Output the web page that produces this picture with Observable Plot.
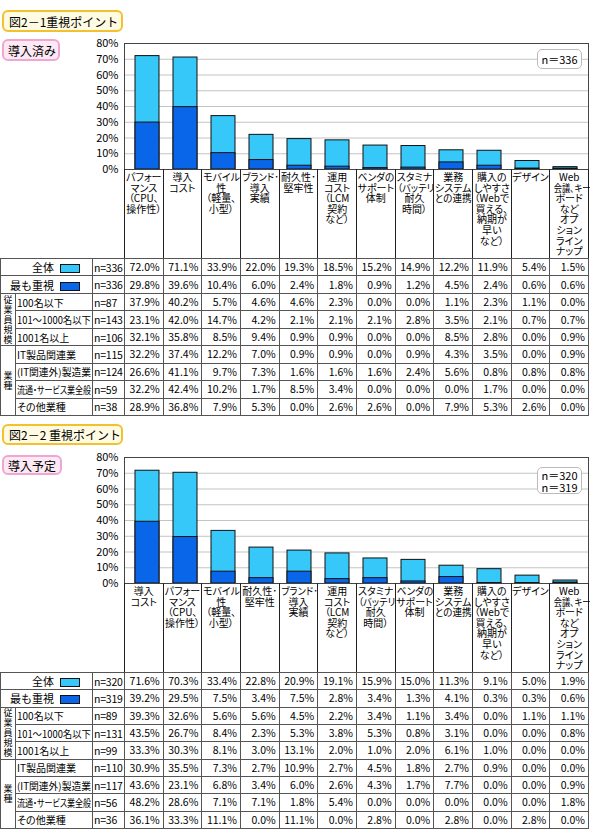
<!DOCTYPE html>
<html><head><meta charset="utf-8">
<script src="https://cdn.jsdelivr.net/npm/d3@7"></script>
<script src="https://cdn.jsdelivr.net/npm/@observablehq/plot@0.6"></script>
<style>
body{margin:0;background:#fff;font-family:"Noto Sans CJK JP","Noto Sans",sans-serif;color:#000;}
#root{position:relative;width:590px;height:837px;overflow:hidden;}
.abs{position:absolute;box-sizing:border-box;}
.title{border:2px solid #f2c12e;background:#fffbe3;border-radius:6px;font-size:12px;display:flex;align-items:center;padding-left:5px;white-space:pre;}
.sub{border:2px solid #f0a6d2;background:#fde9f4;border-radius:6px;font-size:12px;display:flex;align-items:center;padding-left:4px;white-space:nowrap;}
.nbox{border:1.5px solid #bbb;border-radius:5px;background:#fff;font-size:11px;line-height:12px;display:flex;flex-direction:column;justify-content:center;align-items:center;}
.lab{position:absolute;border-left:1px solid #222;text-align:center;font-size:10px;line-height:10.6px;padding-top:3px;font-feature-settings:"palt";box-sizing:border-box;}
.lab div{white-space:nowrap;height:10.6px;line-height:10.6px;overflow:visible;}
.fit{display:inline-block;white-space:nowrap;transform-origin:center top;vertical-align:top;line-height:10.6px;}
.fitl{display:inline-block;white-space:nowrap;transform-origin:left center;vertical-align:middle;}
table{position:absolute;left:0;border-collapse:collapse;table-layout:fixed;font-size:10.5px;}
td{border:1px solid #555;padding:0 3px 0 0;white-space:nowrap;overflow:hidden;text-align:right;line-height:14px;}
td.rl{text-align:right;padding-right:12px;font-size:11px;}
td.sl{text-align:left;padding-left:1px;font-size:10px;font-feature-settings:"palt";}
td.n{text-align:left;padding-left:1px;font-size:10.5px;letter-spacing:-0.2px;}
td.grp{text-align:center;font-size:9px;line-height:10px;padding:0;}
.sw{display:inline-block;width:20px;height:9px;border:1px solid #111;vertical-align:-1px;margin-left:6px;box-sizing:border-box;}
</style></head>
<body><div id="root"></div>
<script>
// ---------- data ----------
const lightBlue = "#36c8f8", darkBlue = "#0a66e8";
const rowLabels = ["全体","最も重視","100名以下","101～1000名以下","1001名以上","IT製品関連業","(IT関連外)製造業","流通・サービス業全般","その他業種"];
const yTicks = [0,10,20,30,40,50,60,70,80];

const catLabels = {
  perf: "パフォー\nマンス\n（CPU､\n操作性）",
  cost: "導入\nコスト",
  mobile: "モバイル\n性\n（軽量､\n小型）",
  brand: "ブランド･\n導入\n実績",
  dur: "耐久性･\n堅牢性",
  run: "運用\nコスト\n（LCM\n契約\nなど）",
  vendor: "ベンダの\nサポート\n体制",
  stamina: "スタミナ\n（バッテリ\n耐久\n時間）",
  biz: "業務\nシステム\nとの連携",
  buy: "購入の\nしやすさ\n（Webで\n買える､\n納期が\n早い\nなど）",
  design: "デザイン",
  web: "Web\n会議､キー\nボード\nなど\nオプ\nション\nライン\nナップ"
};

// 図2-1 導入済み
const cats1 = ["perf","cost","mobile","brand","dur","run","vendor","stamina","biz","buy","design","web"];
const n1 = [336,336,87,143,106,115,124,59,38];
const total1 = [72.0,71.1,33.9,22.0,19.3,18.5,15.2,14.9,12.2,11.9,5.4,1.5];
const most1  = [29.8,39.6,10.4,6.0,2.4,1.8,0.9,1.2,4.5,2.4,0.6,0.6];
const seg1 = [
  [37.9,40.2,5.7,4.6,4.6,2.3,0.0,0.0,1.1,2.3,1.1,0.0],
  [23.1,42.0,14.7,4.2,2.1,2.1,2.1,2.8,3.5,2.1,0.7,0.7],
  [32.1,35.8,8.5,9.4,0.9,0.9,0.0,0.0,8.5,2.8,0.0,0.9],
  [32.2,37.4,12.2,7.0,0.9,0.9,0.0,0.9,4.3,3.5,0.0,0.9],
  [26.6,41.1,9.7,7.3,1.6,1.6,1.6,2.4,5.6,0.8,0.8,0.8],
  [32.2,42.4,10.2,1.7,8.5,3.4,0.0,0.0,0.0,1.7,0.0,0.0],
  [28.9,36.8,7.9,5.3,0.0,2.6,2.6,0.0,7.9,5.3,2.6,0.0]
];

// 図2-2 導入予定
const cats2 = ["cost","perf","mobile","dur","brand","run","stamina","vendor","biz","buy","design","web"];
const n2 = [320,319,89,131,99,110,117,56,36];
const total2 = [71.6,70.3,33.4,22.8,20.9,19.1,15.9,15.0,11.3,9.1,5.0,1.9];
const most2  = [39.2,29.5,7.5,3.4,7.5,2.8,3.4,1.3,4.1,0.3,0.3,0.6];
const seg2 = [
  [39.3,32.6,5.6,5.6,4.5,2.2,3.4,1.1,3.4,0.0,1.1,1.1],
  [43.5,26.7,8.4,2.3,5.3,3.8,5.3,0.8,3.1,0.0,0.0,0.8],
  [33.3,30.3,8.1,3.0,13.1,2.0,1.0,2.0,6.1,1.0,0.0,0.0],
  [30.9,35.5,7.3,2.7,10.9,2.7,4.5,1.8,2.7,0.9,0.0,0.0],
  [43.6,23.1,6.8,3.4,6.0,2.6,4.3,1.7,7.7,0.0,0.0,0.9],
  [48.2,28.6,7.1,7.1,1.8,5.4,0.0,0.0,0.0,0.0,0.0,1.8],
  [36.1,33.3,11.1,0.0,11.1,0.0,2.8,0.0,2.8,0.0,2.8,0.0]
];

// ---------- layout ----------
const root = document.getElementById("root");
function el(cls, css, html){const d=document.createElement("div");d.className="abs "+cls;Object.assign(d.style,css);d.innerHTML=html;root.appendChild(d);return d;}
function fitAll(){
  document.querySelectorAll(".fit,.fitl").forEach(s=>{
    const avail=+s.dataset.w; const w=s.getBoundingClientRect().width;
    if(w>avail) s.style.transform=`scaleX(${avail/w})`;
  });
}

function section(o){
  el("title",{left:"2px",top:o.titleTop+"px",width:"121px",height:o.titleH+"px"},o.title);
  el("sub",{left:"2px",top:o.subTop+"px",width:o.subW+"px",height:o.subH+"px"},o.sub);

  const data = o.cats.map((c,i)=>({c, total:o.total[i], most:o.most[i]}));
  const plot = Plot.plot({
    width:590, height:136, marginLeft:124, marginRight:2, marginTop:8, marginBottom:2,
    x:{domain:o.cats, paddingInner:0.36, paddingOuter:0.18, axis:null},
    y:{domain:[0,80], axis:null},
    style:{fontFamily:'"Noto Sans CJK JP",sans-serif', fontSize:"11px", color:"#000", background:"transparent", overflow:"visible"},
    marks:[
      Plot.gridY(yTicks,{stroke:"#c4c4c4", strokeOpacity:1}),
      Plot.barY(data,{x:"c", y:"total", fill:lightBlue, stroke:"#111", strokeWidth:1}),
      Plot.barY(data,{x:"c", y:"most", fill:darkBlue, stroke:"#111", strokeWidth:1}),
      Plot.axisY(yTicks,{tickSize:0, tickPadding:6, tickFormat:d=>d+"%", fontSize:11}),
      Plot.frame({stroke:"#444"})
    ]
  });
  plot.style.position="absolute"; plot.style.left="0px"; plot.style.top=(o.frameTop-8)+"px";
  root.appendChild(plot);

  el("nbox",{left:"537px",top:o.nTop+"px",width:"45px",height:o.nH+"px"},o.nText);

  // category label row
  const frameBottom = o.frameTop+126;
  const step = 464/12;
  o.cats.forEach((c,i)=>{
    const inner = catLabels[c].split("\n").map(l=>`<div><span class="fit" data-w="${step-2}">${l}</span></div>`).join("");
    el("lab",{left:(124+i*step)+"px",top:frameBottom+"px",width:(step+(i==11?1:0))+"px",height:(o.tableTop-frameBottom)+"px",borderRight:i==11?"1px solid #222":"none"},inner);
  });

  // table
  const t=document.createElement("table");
  t.style.top=o.tableTop+"px"; t.style.width="589px";
  let h='<colgroup><col style="width:15px"><col style="width:77px"><col style="width:32px">'+'<col style="width:38.667px">'.repeat(12)+'</colgroup>';
  const vals=[o.total,o.most,...o.seg];
  const fmt=v=>v.toFixed(1)+"%";
  vals.forEach((row,r)=>{
    h+=`<tr style="height:${o.rowH}px">`;
    if(r==0) h+=`<td colspan="2" class="rl">${rowLabels[0]}<span class="sw" style="background:${lightBlue}"></span></td>`;
    else if(r==1) h+=`<td colspan="2" class="rl">${rowLabels[1]}<span class="sw" style="background:${darkBlue}"></span></td>`;
    else {
      if(r==2) h+=`<td rowspan="3" class="grp">従<br>業<br>員<br>規<br>模</td>`;
      if(r==5) h+=`<td rowspan="4" class="grp">業<br>種</td>`;
      h+=`<td class="sl"><span class="fitl" data-w="74">${rowLabels[r]}</span></td>`;
    }
    h+=`<td class="n"><span class="fitl" data-w="30">n=${o.n[r]}</span></td>`;
    row.forEach(v=>{h+=`<td>${fmt(v)}</td>`;});
    h+='</tr>';
  });
  t.innerHTML=h;
  root.appendChild(t);
}

section({title:"図2－1重視ポイント",titleTop:10,titleH:22,sub:"導入済み",subTop:39,subW:58,subH:22,
  cats:cats1,total:total1,most:most1,seg:seg1,n:n1,frameTop:43,nTop:49,nH:20,nText:"<div>n＝336</div>",tableTop:258,rowH:17.44});
section({title:"図2－2 重視ポイント",titleTop:424,titleH:21,sub:"導入予定",subTop:455,subW:60,subH:20,
  cats:cats2,total:total2,most:most2,seg:seg2,n:n2,frameTop:457,nTop:467,nH:27,nText:"<div>n＝320</div><div>n＝319</div>",tableTop:672,rowH:17.33});
fitAll();
</script></body></html>
